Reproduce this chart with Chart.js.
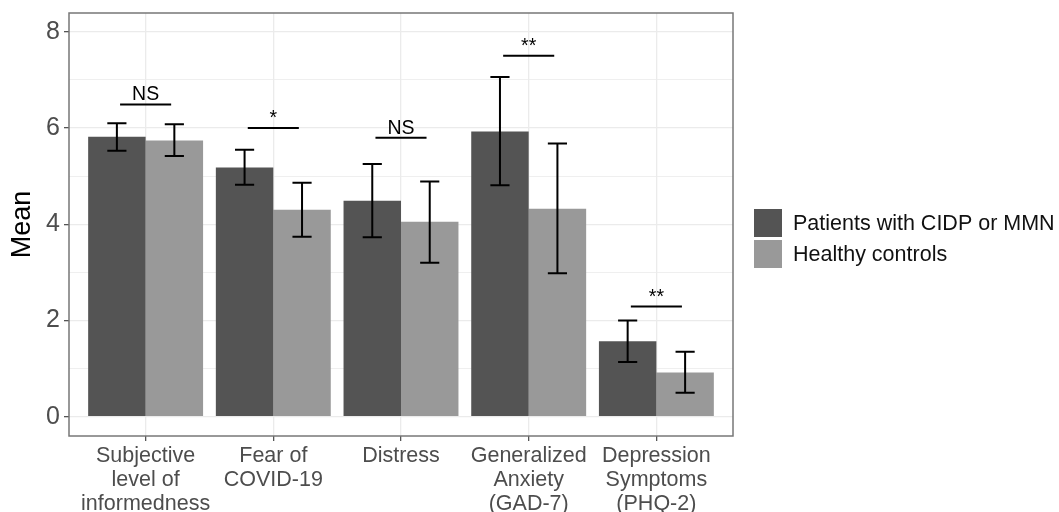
<!DOCTYPE html>
<html>
<head>
<meta charset="utf-8">
<script src="https://cdn.jsdelivr.net/npm/chart.js@4"></script>
<style>
  html, body { margin: 0; padding: 0; background: #fff; }
  #wrap { width: 1059px; height: 512px; }
</style>
</head>
<body>
<div id="wrap"><canvas id="grafico"></canvas></div>
<script>
// categorias y valores
const categorias = [
  ["Subjective", "level of", "informedness"],
  ["Fear of", "COVID-19"],
  ["Distress"],
  ["Generalized", "Anxiety", "(GAD-7)"],
  ["Depression", "Symptoms", "(PHQ-2)"],
];
const series = ["Patients with CIDP or MMN", "Healthy controls"];

const mediaPacientes = [5.82, 5.18, 4.49, 5.93, 1.57];
const bajoPacientes = [5.53, 4.82, 3.73, 4.81, 1.14];
const altoPacientes = [6.10, 5.55, 5.25, 7.06, 2.00];

const mediaControles = [5.74, 4.30, 4.05, 4.32, 0.92];
const bajoControles = [5.42, 3.74, 3.20, 2.98, 0.50];
const altoControles = [6.08, 4.86, 4.89, 5.68, 1.35];

const signif = ["NS", "*", "NS", "**", "**"];
const alturaSignif = [6.49, 6.0, 5.80, 7.5, 2.29];

const ticksY = [0, 2, 4, 6, 8];

const colores = ["#545454", "#999999"];
const fuente = "'Liberation Sans', Arial, Helvetica, sans-serif";

// barras de error
const barrasError = {
  id: "barrasError",
  afterDatasetsDraw(chart) {
    const ctx = chart.ctx;
    const x = chart.scales.x;
    const y = chart.scales.y;
    const limites = [[bajoPacientes, altoPacientes], [bajoControles, altoControles]];
    const media = (x.getPixelForValue(0.15) - x.getPixelForValue(0)) / 2;
    ctx.save();
    ctx.strokeStyle = "#000";
    ctx.lineWidth = 2;
    limites.forEach((lim, d) => {
      chart.getDatasetMeta(d).data.forEach((el, i) => {
        let y1 = y.getPixelForValue(lim[0][i]);
        let y2 = y.getPixelForValue(lim[1][i]);
        ctx.beginPath();
        ctx.moveTo(el.x, y1);
        ctx.lineTo(el.x, y2);
        ctx.moveTo(el.x - media, y1);
        ctx.lineTo(el.x + media, y1);
        ctx.moveTo(el.x - media, y2);
        ctx.lineTo(el.x + media, y2);
        ctx.stroke();
      });
    });
    ctx.restore();
  },
};

// lineas de significancia
const significancia = {
  id: "significancia",
  afterDatasetsDraw(chart) {
    const ctx = chart.ctx;
    const x = chart.scales.x;
    const y = chart.scales.y;
    ctx.save();
    ctx.strokeStyle = "#000";
    ctx.fillStyle = "#000";
    ctx.lineWidth = 2;
    ctx.font = "19.5px " + fuente;
    ctx.textAlign = "center";
    ctx.textBaseline = "alphabetic";
    signif.forEach((txt, i) => {
      let py = y.getPixelForValue(alturaSignif[i]);
      let xa = x.getPixelForValue(i - 0.2);
      let xb = x.getPixelForValue(i + 0.2);
      ctx.beginPath();
      ctx.moveTo(xa, py);
      ctx.lineTo(xb, py);
      ctx.stroke();
      ctx.fillText(txt, x.getPixelForValue(i), py - 4);
    });
    ctx.restore();
  },
};

// borde del panel y leyenda
const panel = {
  id: "panel",
  afterDraw(chart) {
    const ctx = chart.ctx;
    const a = chart.chartArea;
    ctx.save();
    ctx.strokeStyle = "#777";
    ctx.lineWidth = 1.5;
    ctx.strokeRect(a.left, a.top, a.right - a.left, a.bottom - a.top);

    let lx = a.right + 21;
    let ly = 209;
    ctx.font = "21.5px " + fuente;
    ctx.textBaseline = "middle";
    ctx.textAlign = "left";
    series.forEach((s, i) => {
      ctx.fillStyle = colores[i];
      ctx.fillRect(lx, ly + i * 31, 28, 28);
      ctx.fillStyle = "#111";
      ctx.fillText(s, lx + 39, ly + i * 31 + 15);
    });
    ctx.restore();
  },
};

function cargarGrafico() {
  let canvas = document.getElementById("grafico");
  if (!canvas) return;

  let datos = {
    datasets: [
      {
        label: series[0],
        data: mediaPacientes.map((v, i) => ({ x: i, y: v })),
        backgroundColor: colores[0],
      },
      {
        label: series[1],
        data: mediaControles.map((v, i) => ({ x: i, y: v })),
        backgroundColor: colores[1],
      },
    ],
  };

  let config = {
    type: "bar",
    data: datos,
    options: {
      responsive: true,
      maintainAspectRatio: false,
      animation: false,
      layout: {
        padding: { left: 0, top: 13, right: 326, bottom: 0 },
      },
      datasets: {
        bar: {
          categoryPercentage: 0.9,
          barPercentage: 1.0,
        },
      },
      plugins: {
        legend: { display: false },
        tooltip: { enabled: false },
      },
      scales: {
        x: {
          type: "linear",
          min: -0.6,
          max: 4.6,
          offset: false,
          afterBuildTicks: (scale) => {
            scale.ticks = categorias.map((c, i) => ({ value: i }));
          },
          afterFit: (scale) => {
            scale.height = 76;
            scale.paddingLeft = 0;
            scale.paddingRight = 0;
          },
          border: { display: false },
          grid: {
            offset: false,
            color: "#EBEBEB",
            lineWidth: 1.3,
            tickColor: "#555",
            tickLength: 5,
            tickWidth: 1.3,
          },
          ticks: {
            autoSkip: false,
            maxRotation: 0,
            padding: 3,
            color: "#4D4D4D",
            font: { family: fuente, size: 21.5, lineHeight: 1.12 },
            callback: (v) => categorias[v],
          },
        },
        y: {
          min: -0.4,
          max: 8.39,
          afterBuildTicks: (scale) => {
            let t = [];
            for (let v = 0; v <= 8; v++) t.push({ value: v });
            scale.ticks = t;
          },
          afterFit: (scale) => {
            scale.width = 69;
            scale.paddingTop = 0;
            scale.paddingBottom = 0;
          },
          border: { display: false },
          grid: {
            color: "#EBEBEB",
            lineWidth: (c) => (ticksY.includes(c.tick.value) ? 1.3 : 0.8),
            tickColor: (c) => (ticksY.includes(c.tick.value) ? "#555" : "rgba(0,0,0,0)"),
            tickLength: 5,
            tickWidth: 1.3,
          },
          ticks: {
            padding: 4,
            color: "#4D4D4D",
            font: { family: fuente, size: 25 },
            callback: (v) => (ticksY.includes(v) ? String(v) : ""),
          },
          title: {
            display: true,
            text: "Mean",
            color: "#000",
            font: { family: fuente, size: 27 },
            padding: { top: 6, bottom: 0 },
          },
        },
      },
    },
    plugins: [barrasError, significancia, panel],
  };

  new Chart(canvas, config);
}

document.addEventListener("DOMContentLoaded", () => {
  cargarGrafico();
});
</script>
</body>
</html>
